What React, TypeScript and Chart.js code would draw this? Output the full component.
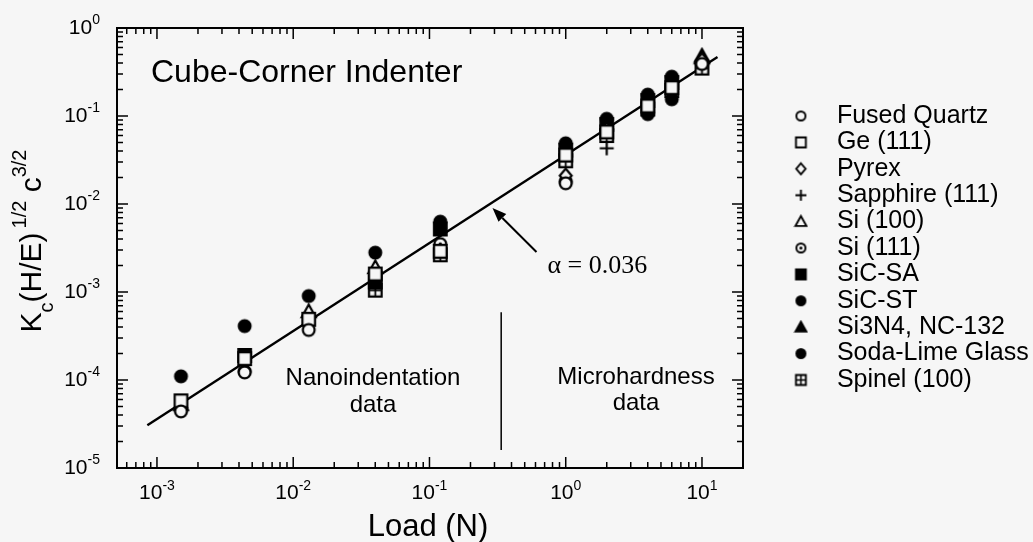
import React, { useEffect, useRef } from 'react';
import { Chart, registerables } from 'chart.js';

Chart.register(...registerables);

// ---------------- data ----------------
const materials = [
  'Fused Quartz',
  'Ge (111)',
  'Pyrex',
  'Sapphire (111)',
  'Si (100)',
  'Si (111)',
  'SiC-SA',
  'SiC-ST',
  'Si3N4, NC-132',
  'Soda-Lime Glass',
  'Spinel (100)',
];

const fusedQuartzLoad = [0.0015, 0.0044, 0.013, 1, 10];
const fusedQuartzK = [4.4e-5, 1.22e-4, 3.7e-4, 0.0172, 0.39];

const geLoad = [0.0015, 0.0044, 0.013, 0.04, 0.12, 1, 2, 4, 6];
const geK = [5.8e-5, 1.75e-4, 4.9e-4, 1.6e-3, 2.9e-3, 0.036, 0.066, 0.13, 0.21];

const pyrexLoad = [1, 2, 10];
const pyrexK = [0.021, 0.07, 0.43];

const sapphireLoad = [2];
const sapphireK = [0.043];

const si100Load = [0.0015, 0.013, 0.04, 10];
const si100K = [5.3e-5, 6.0e-4, 1.9e-3, 0.46];

const si111Load = [0.0015, 0.0044, 0.12, 1];
const si111K = [4.6e-5, 1.25e-4, 3.5e-3, 0.018];

const sicSaLoad = [0.0044, 0.04, 0.12, 1, 2, 4, 6];
const sicSaK = [1.9e-4, 1.3e-3, 5.2e-3, 0.041, 0.08, 0.15, 0.24];

const sicStLoad = [1, 2, 4, 6];
const sicStK = [0.049, 0.093, 0.175, 0.28];

const si3n4Load = [10];
const si3n4K = [0.48];

const sodaLimeLoad = [0.0015, 0.0044, 0.013, 0.04, 0.12, 4, 6];
const sodaLimeK = [1.1e-4, 4.1e-4, 9.0e-4, 2.8e-3, 6.3e-3, 0.105, 0.155];

const spinelLoad = [0.04, 0.12, 1, 2, 4, 6, 10];
const spinelK = [1.05e-3, 2.65e-3, 0.031, 0.06, 0.12, 0.195, 0.35];

// fit line  K = alpha * P, alpha = 0.036
const fitLoad = [0.00085, 13];
const fitK = [3.06e-5, 0.468];

// nano / micro divider
const dividerLoad = [0.336, 0.336];
const dividerK = [5.9e-4, 1.6e-5];

// arrow pointing at the fit line
const arrowTail = [0.61, 2.85e-3];
const arrowHead = [0.29, 9.0e-3];

const xTickExps = [-3, -2, -1, 0, 1];
const yTickExps = [-5, -4, -3, -2, -1, 0];

const xMin = 5.09e-4;
const xMax = 20;
const yMin = 1e-5;
const yMax = 1;

// ---------------- styles ----------------
const BG = '#f6f6f6';
const FONT = '"Liberation Sans", Arial, Helvetica, sans-serif';
const SERIF = '"Liberation Serif", "Times New Roman", serif';

type Kind =
  | 'circle' | 'square' | 'diamond' | 'plus' | 'triangle' | 'dotCircle'
  | 'fSquare' | 'fCircle' | 'fTriangle' | 'xSquare';

const kinds: Kind[] = [
  'circle', 'square', 'diamond', 'plus', 'triangle', 'dotCircle',
  'fSquare', 'fCircle', 'fTriangle', 'fCircle', 'xSquare',
];

function makeMarker(kind: Kind, size: number, lw: number): HTMLCanvasElement {
  const D = Math.ceil(size + lw + 2);
  const cv = document.createElement('canvas');
  cv.width = D;
  cv.height = D;
  const g = cv.getContext('2d')!;
  const c = D / 2;
  const r = size / 2;
  g.lineWidth = lw;
  g.strokeStyle = '#000';
  g.fillStyle = BG;
  const filled = kind.startsWith('f');
  const sq = r * 0.9;
  g.beginPath();
  switch (kind) {
    case 'circle':
    case 'dotCircle':
    case 'fCircle':
      g.arc(c, c, r - lw / 2, 0, Math.PI * 2);
      break;
    case 'square':
    case 'fSquare':
    case 'xSquare':
      g.rect(c - sq, c - sq, sq * 2, sq * 2);
      break;
    case 'diamond':
      g.moveTo(c, c - r);
      g.lineTo(c + r * 0.85, c);
      g.lineTo(c, c + r);
      g.lineTo(c - r * 0.85, c);
      g.closePath();
      break;
    case 'triangle':
    case 'fTriangle':
      g.moveTo(c, c - r);
      g.lineTo(c + r, c + r * 0.8);
      g.lineTo(c - r, c + r * 0.8);
      g.closePath();
      break;
    case 'plus':
      g.moveTo(c - r, c);
      g.lineTo(c + r, c);
      g.moveTo(c, c - r);
      g.lineTo(c, c + r);
      break;
  }
  if (kind !== 'plus') {
    if (filled) g.fillStyle = '#000';
    g.fill();
  }
  g.stroke();
  if (kind === 'dotCircle') {
    g.fillStyle = '#000';
    g.beginPath();
    g.arc(c, c, Math.max(1, lw * 0.8), 0, Math.PI * 2);
    g.fill();
  }
  if (kind === 'xSquare') {
    g.lineWidth = Math.max(1, lw * 0.8);
    g.beginPath();
    g.moveTo(c - sq, c);
    g.lineTo(c + sq, c);
    g.moveTo(c, c - sq);
    g.lineTo(c, c + sq);
    g.stroke();
  }
  return cv;
}

function pairs(xs: number[], ys: number[]) {
  return xs.map((x, i) => ({ x, y: ys[i] }));
}

function drawPow(
  ctx: CanvasRenderingContext2D,
  exp: number,
  x: number,
  baseline: number,
  align: 'center' | 'right',
  baseSize: number,
  supSize: number,
  supRaise: number,
) {
  const base = '10';
  const sup = String(exp);
  ctx.font = `${baseSize}px ${FONT}`;
  const wb = ctx.measureText(base).width;
  ctx.font = `${supSize}px ${FONT}`;
  const ws = ctx.measureText(sup).width;
  const total = wb + ws;
  const start = align === 'center' ? x - total / 2 : x - total;
  ctx.textAlign = 'left';
  ctx.textBaseline = 'alphabetic';
  ctx.font = `${baseSize}px ${FONT}`;
  ctx.fillText(base, start, baseline);
  ctx.font = `${supSize}px ${FONT}`;
  ctx.fillText(sup, start + wb, baseline - supRaise);
}

const decorPlugin = {
  id: 'decor',
  afterDraw(chart: any) {
    const ctx: CanvasRenderingContext2D = chart.ctx;
    const xs = chart.scales.x;
    const ys = chart.scales.y;
    const { left, right, top, bottom } = chart.chartArea;
    ctx.save();
    ctx.strokeStyle = '#000';
    ctx.fillStyle = '#000';

    // frame
    ctx.lineWidth = 2;
    ctx.strokeRect(left, top, right - left, bottom - top);

    // inward ticks on all sides
    ctx.lineWidth = 1.5;
    ctx.beginPath();
    for (let e = -5; e <= 2; e++) {
      for (let m = 1; m <= 9; m++) {
        const v = m * Math.pow(10, e);
        const len = m === 1 ? 11 : 6;
        if (v >= xs.min * 0.999 && v <= xs.max * 1.001) {
          const px = xs.getPixelForValue(v);
          ctx.moveTo(px, bottom);
          ctx.lineTo(px, bottom - len);
          ctx.moveTo(px, top);
          ctx.lineTo(px, top + len);
        }
        if (v >= ys.min * 0.999 && v <= ys.max * 1.001) {
          const py = ys.getPixelForValue(v);
          ctx.moveTo(left, py);
          ctx.lineTo(left + len, py);
          ctx.moveTo(right, py);
          ctx.lineTo(right - len, py);
        }
      }
    }
    ctx.stroke();

    // tick labels
    for (const e of xTickExps) {
      const px = xs.getPixelForValue(Math.pow(10, e));
      drawPow(ctx, e, px, bottom + 31, 'center', 21, 14, 9);
    }
    for (const e of yTickExps) {
      const py = ys.getPixelForValue(Math.pow(10, e));
      drawPow(ctx, e, left - 17, py + 6, 'right', 21, 14, 10);
    }

    // x title
    ctx.font = `31px ${FONT}`;
    ctx.textAlign = 'center';
    ctx.textBaseline = 'alphabetic';
    ctx.fillText('Load (N)', (left + right) / 2 - 2, bottom + 68);

    // y title with sub/superscripts
    const segs = [
      { t: 'K', s: 30, dy: 0 },
      { t: 'c', s: 20, dy: 12 },
      { t: '(H/E)', s: 30, dy: 0 },
      { t: '\u20091/2', s: 20, dy: -15 },
      { t: ' c', s: 30, dy: 0 },
      { t: '3/2', s: 20, dy: -15 },
    ];
    let tw = 0;
    for (const sg of segs) {
      ctx.font = `${sg.s}px ${FONT}`;
      tw += ctx.measureText(sg.t).width;
    }
    ctx.save();
    ctx.translate(41, 241);
    ctx.rotate(-Math.PI / 2);
    ctx.textAlign = 'left';
    let cx = -tw / 2;
    for (const sg of segs) {
      ctx.font = `${sg.s}px ${FONT}`;
      ctx.fillText(sg.t, cx, sg.dy);
      cx += ctx.measureText(sg.t).width;
    }
    ctx.restore();

    // annotations
    ctx.textAlign = 'left';
    ctx.font = `32px ${FONT}`;
    ctx.fillText('Cube-Corner Indenter', left + 34, top + 54);

    ctx.textAlign = 'center';
    ctx.textBaseline = 'middle';
    ctx.font = `24px ${FONT}`;
    ctx.fillText('Nanoindentation', 373, 378);
    ctx.fillText('data', 373, 405);
    ctx.fillText('Microhardness', 636, 377);
    ctx.fillText('data', 636, 403);

    // arrow
    const tx = xs.getPixelForValue(arrowTail[0]);
    const ty = ys.getPixelForValue(arrowTail[1]);
    const hx = xs.getPixelForValue(arrowHead[0]);
    const hy = ys.getPixelForValue(arrowHead[1]);
    const ang = Math.atan2(hy - ty, hx - tx);
    const hl = 14;
    const hw = 5.5;
    const bx = hx - hl * Math.cos(ang);
    const by = hy - hl * Math.sin(ang);
    ctx.lineWidth = 2;
    ctx.beginPath();
    ctx.moveTo(tx, ty);
    ctx.lineTo(bx, by);
    ctx.stroke();
    ctx.beginPath();
    ctx.moveTo(hx, hy);
    ctx.lineTo(bx + hw * Math.sin(ang), by - hw * Math.cos(ang));
    ctx.lineTo(bx - hw * Math.sin(ang), by + hw * Math.cos(ang));
    ctx.closePath();
    ctx.fill();

    ctx.textAlign = 'left';
    ctx.textBaseline = 'alphabetic';
    ctx.font = `26px ${SERIF}`;
    ctx.fillText('\u03b1 = 0.036', tx + 11, ty + 21);

    ctx.restore();
  },
};

export default function App() {
  const ref = useRef<HTMLCanvasElement>(null);

  useEffect(() => {
    document.body.style.margin = '0';
    const dataMarkers = kinds.map((k) => makeMarker(k, 14, 2.2));
    const legendMarkers = kinds.map((k) => makeMarker(k, 11, 1.9));

    const seriesLoads = [
      fusedQuartzLoad, geLoad, pyrexLoad, sapphireLoad, si100Load, si111Load,
      sicSaLoad, sicStLoad, si3n4Load, sodaLimeLoad, spinelLoad,
    ];
    const seriesK = [
      fusedQuartzK, geK, pyrexK, sapphireK, si100K, si111K,
      sicSaK, sicStK, si3n4K, sodaLimeK, spinelK,
    ];

    const datasets: any[] = materials.map((name, i) => ({
      label: name,
      data: pairs(seriesLoads[i], seriesK[i]),
      pointStyle: dataMarkers[i],
      pointRadius: 7,
      showLine: false,
      borderColor: '#000',
      backgroundColor: '#000',
    }));
    datasets.push({
      label: 'fit',
      data: pairs(fitLoad, fitK),
      showLine: true,
      pointRadius: 0,
      borderColor: '#000',
      borderWidth: 2.4,
      fill: false,
    });
    datasets.push({
      label: 'divider',
      data: pairs(dividerLoad, dividerK),
      showLine: true,
      pointRadius: 0,
      borderColor: '#000',
      borderWidth: 1.5,
      fill: false,
    });

    const chart = new Chart(ref.current!, {
      type: 'scatter',
      data: { datasets },
      options: {
        animation: false,
        responsive: true,
        maintainAspectRatio: false,
        devicePixelRatio: 1,
        layout: { padding: { top: 28, left: 0, right: 0, bottom: 0 } },
        scales: {
          x: {
            type: 'logarithmic',
            position: 'bottom',
            min: xMin,
            max: xMax,
            grid: { display: false },
            border: { display: false },
            ticks: { display: false },
            afterFit: (s: any) => { s.height = 74; },
          },
          y: {
            type: 'logarithmic',
            position: 'left',
            min: yMin,
            max: yMax,
            grid: { display: false },
            border: { display: false },
            ticks: { display: false },
            afterFit: (s: any) => { s.width = 117; },
          },
          y2: {
            type: 'linear',
            position: 'right',
            grid: { display: false },
            border: { display: false },
            ticks: { display: false },
            afterFit: (s: any) => { s.width = 33; },
          },
        },
        plugins: {
          tooltip: { enabled: false },
          legend: {
            position: 'right',
            align: 'center',
            fullSize: false,
            maxWidth: 257,
            labels: {
              usePointStyle: true,
              pointStyleWidth: 47,
              boxHeight: 11,
              padding: 1.4,
              color: '#000',
              font: { family: FONT, size: 25 },
              generateLabels: (c: any) => {
                const items = (Chart.defaults as any).plugins.legend.labels.generateLabels(c);
                return items.map((it: any) => ({
                  ...it,
                  pointStyle: legendMarkers[it.datasetIndex] || it.pointStyle,
                }));
              },
              filter: (item: any) => item.datasetIndex < materials.length,
            },
          },
        },
      } as any,
      plugins: [decorPlugin],
    });
    return () => chart.destroy();
  }, []);

  return (
    <div style={{ position: 'relative', width: 1033, height: 542, background: BG }}>
      <canvas ref={ref} />
    </div>
  );
}
